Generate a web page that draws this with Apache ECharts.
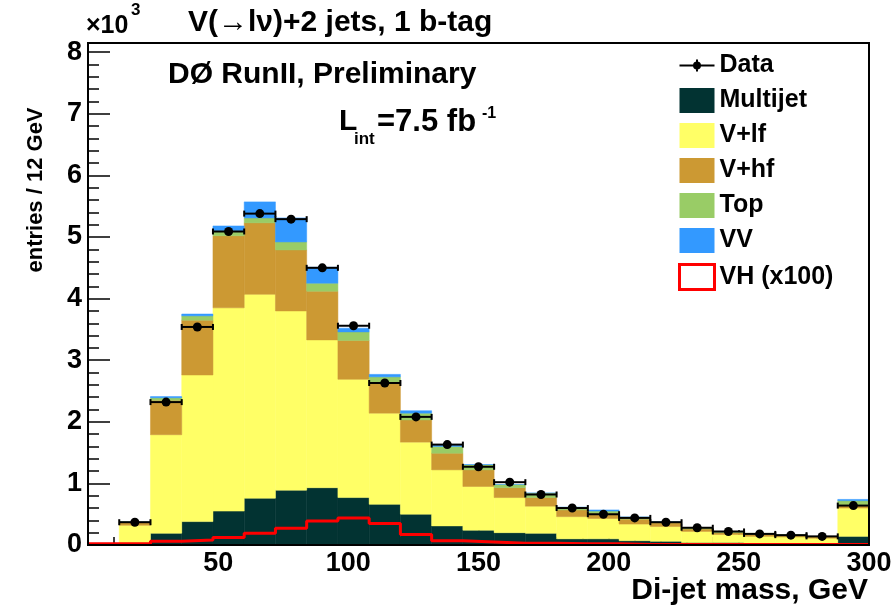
<!DOCTYPE html>
<html><head><meta charset="utf-8">
<script src="https://cdn.jsdelivr.net/npm/echarts@6/dist/echarts.min.js"></script>
<style>html,body{margin:0;padding:0;background:#fff}#c{width:895px;height:607px}</style>
</head><body><div id="c"></div>
<script>
// bin edges (GeV), 12 GeV bins
const binEdges = [0,12,24,36,48,60,72,84,96,108,120,132,144,156,168,180,192,204,216,228,240,252,264,276,288,300];
// values in units of 10^3 entries
const multijet = [0,0.01,0.19,0.38,0.55,0.76,0.89,0.93,0.77,0.66,0.50,0.31,0.24,0.20,0.19,0.10,0.10,0.07,0.06,0.04,0.04,0.03,0.03,0.03,0.14];
const vlf      = [0,0.31,1.60,2.38,3.30,3.31,2.91,2.40,1.92,1.48,1.17,0.91,0.71,0.57,0.44,0.36,0.33,0.27,0.24,0.18,0.13,0.11,0.10,0.08,0.46];
const vhf      = [0,0.05,0.56,0.89,1.17,1.16,0.99,0.79,0.63,0.48,0.36,0.27,0.27,0.16,0.14,0.11,0.08,0.08,0.06,0.04,0.03,0.03,0.02,0.02,0.04];
const topq     = [0,0.01,0.04,0.07,0.08,0.08,0.13,0.13,0.14,0.11,0.11,0.11,0.08,0.05,0.07,0.04,0.04,0.03,0.02,0.02,0.02,0.02,0.02,0.01,0.08];
const vv       = [0,0.005,0.02,0.03,0.08,0.26,0.39,0.26,0.06,0.04,0.04,0.02,0.01,0.01,0.01,0.01,0.02,0.01,0.01,0.01,0.005,0.005,0,0,0.02];
const vh100    = [0.02,0.02,0.06,0.08,0.12,0.19,0.27,0.39,0.44,0.35,0.17,0.07,0.05,0.03,0.03,0.02,0.02,0.01,0.01,0.01,0.01,0.01,0.01,0.01,0.01];
const dataVals = [null,0.37,2.32,3.54,5.09,5.38,5.29,4.50,3.56,2.63,2.08,1.63,1.27,1.02,0.82,0.60,0.50,0.44,0.37,0.28,0.22,0.18,0.16,0.14,0.64];
const yLabels = [0,1,2,3,4,5,6,7,8];

const FONT = '"Liberation Sans", Arial, Helvetica, sans-serif';
const comps = [
  {name:'Multijet', vals:multijet, color:'#023332'},
  {name:'V+lf', vals:vlf, color:'#ffff66'},
  {name:'V+hf', vals:vhf, color:'#cc9933'},
  {name:'Top', vals:topq, color:'#99cc66'},
  {name:'VV', vals:vv, color:'#3399ff'}
];

function rectRender(params, api){
  const a = api.coord([api.value(0), api.value(3)]);
  const b = api.coord([api.value(1), api.value(2)]);
  const h = b[1]-a[1];
  const col = api.visual('color');
  return {type:'rect', shape:{x:a[0], y:a[1], width:b[0]-a[0], height:h},
    style:{fill:col, stroke: h>1 ? col : null, lineWidth:0.5}};
}

const base = binEdges.slice(0,-1).map(()=>0);
const series = [];
comps.forEach(c=>{
  const d = [];
  c.vals.forEach((v,i)=>{
    d.push([binEdges[i], binEdges[i+1], base[i], base[i]+v]);
    base[i]+=v;
  });
  series.push({type:'custom', name:c.name, renderItem:rectRender, data:d,
    encode:{x:[0,1], y:[2,3]}, itemStyle:{color:c.color}, z:2, silent:true, clip:true});
});

const vhLine = binEdges.slice(0,-1).map((e,i)=>[e, vh100[i]]);
vhLine.push([binEdges[binEdges.length-1], vh100[vh100.length-1]]);
series.push({type:'line', name:'VH (x100)', step:'end', data:vhLine, showSymbol:false,
  lineStyle:{color:'#ff0000', width:3}, itemStyle:{color:'#ff0000'}, z:4, silent:true, clip:true});

const pts = [];
dataVals.forEach((v,i)=>{ if(v!==null) pts.push([binEdges[i], binEdges[i+1], (binEdges[i]+binEdges[i+1])/2, v]); });
series.push({type:'custom', name:'Data', data:pts, encode:{x:[0,1], y:3}, itemStyle:{color:'#000'}, z:5, silent:true,
  renderItem:function(params, api){
    const l = api.coord([api.value(0), api.value(3)]);
    const r = api.coord([api.value(1), api.value(3)]);
    const c = api.coord([api.value(2), api.value(3)]);
    const s = {stroke:'#000', lineWidth:2};
    return {type:'group', children:[
      {type:'line', shape:{x1:l[0], y1:l[1], x2:r[0], y2:r[1]}, style:s},
      {type:'line', shape:{x1:l[0], y1:l[1]-3, x2:l[0], y2:l[1]+3}, style:s},
      {type:'line', shape:{x1:r[0], y1:r[1]-3, x2:r[0], y2:r[1]+3}, style:s},
      {type:'circle', shape:{cx:c[0], cy:c[1], r:4.5}, style:{fill:'#000'}}
    ]};
  }});

const dataIcon = 'path://M0 5H35V7H0Z M16.5 0H18.5V12H16.5Z M13.5 6A4 4 0 1 1 21.5 6A4 4 0 1 1 13.5 6Z';

const chart = echarts.init(document.getElementById('c'), null, {renderer:'canvas'});
const txt = (x,y,t,size,align,rot)=>({type:'text', x:x, y:y, z:100, rotation:rot||0,
  style:{text:t, fontSize:size, fontWeight:'bold', fontFamily:FONT, fill:'#000', verticalAlign:'middle', align:align||'left'}});

chart.setOption({
  animation:false,
  backgroundColor:'#fff',
  grid:{left:88, right:26, top:43, bottom:62, show:false},
  xAxis:{type:'value', min:0, max:300, interval:50,
    axisLine:{show:true, onZero:false, lineStyle:{color:'#000', width:2}},
    axisTick:{show:true, inside:true, length:15, lineStyle:{color:'#000', width:1.5}},
    minorTick:{show:true, splitNumber:5, length:8, lineStyle:{color:'#000', width:1.5}},
    axisLabel:{showMinLabel:false, fontSize:27, fontWeight:'bold', fontFamily:FONT, color:'#000', margin:5},
    splitLine:{show:false}, minorSplitLine:{show:false}},
  yAxis:[
    {type:'value', min:0, max:8.15, interval:0.2,
      axisLine:{show:true, onZero:false, lineStyle:{color:'#000', width:2}},
      axisTick:{show:true, inside:true, length:11, lineStyle:{color:'#000', width:1.5}},
      axisLabel:{fontSize:27, fontWeight:'bold', fontFamily:FONT, color:'#000', margin:6,
        formatter:function(v){ const r=Math.round(v); return (Math.abs(v-r)<1e-6 && yLabels.indexOf(r)>=0) ? String(r) : ''; }},
      splitLine:{show:false}},
    {type:'value', min:0, max:8.15, interval:1, position:'left', offset:0,
      axisLine:{show:false},
      axisTick:{show:true, inside:true, length:22, lineStyle:{color:'#000', width:1.5}},
      axisLabel:{show:false}, splitLine:{show:false}}
  ],
  legend:{orient:'vertical', left:678, top:53, padding:0, itemWidth:35, itemHeight:25, itemGap:10,
    selectedMode:false, symbolKeepAspect:true,
    textStyle:{fontSize:25, fontWeight:'bold', fontFamily:FONT, color:'#000', lineHeight:25},
    data:[
      {name:'Data', icon:dataIcon},
      {name:'Multijet', icon:'rect'},
      {name:'V+lf', icon:'rect'},
      {name:'V+hf', icon:'rect'},
      {name:'Top', icon:'rect'},
      {name:'VV', icon:'rect'},
      {name:'VH (x100)', icon:'rect', itemStyle:{color:'#ffffff', borderColor:'#ff0000', borderWidth:3}}
    ]},
  graphic:[
    {type:'rect', z:90, silent:true, shape:{x:88, y:43, width:781, height:502}, style:{fill:null, stroke:'#000', lineWidth:2}},
    txt(188, 23, 'V(\u2192l\u03bd)+2 jets, 1 b-tag', 30),
    txt(86, 26, '\u00d710', 25),
    txt(131, 10, '3', 17),
    txt(168, 75, 'D\u00d8 RunII, Preliminary', 30),
    txt(339, 122, 'L', 30),
    txt(354, 139, 'int', 17),
    txt(377, 122, '=7.5 fb', 31),
    txt(482, 114, '-1', 16),
    txt(36, 190, 'entries / 12 GeV', 22, 'center', Math.PI/2),
    txt(868, 591, 'Di-jet mass, GeV', 30, 'right')
  ],
  series:series
});
</script></body></html>
